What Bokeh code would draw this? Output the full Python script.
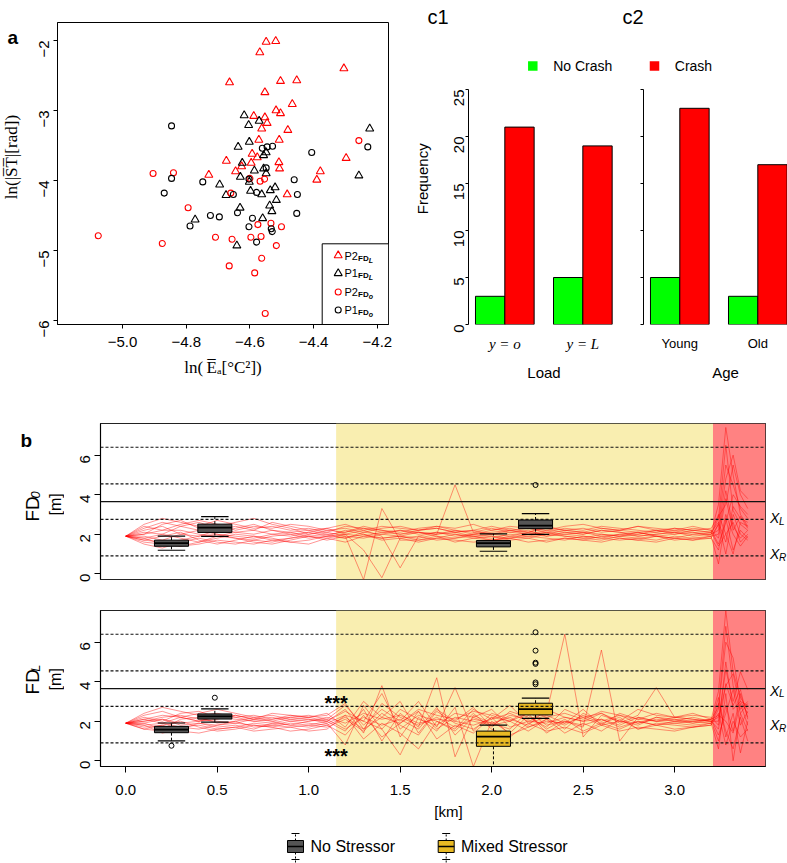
import math
from bokeh.plotting import figure
from bokeh.layouts import column, row
from bokeh.models import Span, BoxAnnotation, FixedTicker, NumeralTickFormatter
from bokeh.core.properties import value
from bokeh.embed import file_html
from bokeh.resources import INLINE

SANS = "Liberation Sans"
SERIF = "Liberation Serif"
RED = "#FF0000"
GREEN = "#00FF00"
GRAY_BOX = "#555555"
GOLD_BOX = "#E8B923"
YELLOW_BG = "#F9EEB0"
RED_BG = "#FF8282"

# ---------------- panel a : scatter ----------------
P2L_X = [-4.549, -4.519, -4.569, -4.305, -4.664, -4.504, -4.453, -4.553, -4.467, -4.518, -4.504,
         -4.588, -4.553, -4.546, -4.563, -4.481, -4.572, -4.508, -4.593, -4.577, -4.674, -4.596,
         -4.509, -4.626, -4.645, -4.507, -4.298, -4.379, -4.390, -4.729, -4.483]
P2L_Y = [-2.02, -2.01, -2.17, -2.40, -2.60, -2.58, -2.57, -2.74, -2.91, -3.00, -3.04,
         -3.08, -3.10, -3.18, -3.26, -3.28, -3.42, -3.42, -3.62, -3.67, -3.72, -3.75,
         -3.74, -3.80, -3.87, -3.83, -3.68, -3.87, -3.99, -3.92, -4.20]
P1L_X = [-4.618, -4.571, -4.604, -4.224, -4.602, -4.637, -4.549, -4.557, -4.624, -4.586, -4.557,
         -4.549, -4.630, -4.602, -4.258, -4.695, -4.675, -4.598, -4.563, -4.536, -4.521, -4.517,
         -4.631, -4.538, -4.531, -4.560, -4.772, -4.641]
P1L_Y = [-3.07, -3.15, -3.21, -3.26, -3.45, -3.52, -3.60, -3.64, -3.75, -3.86, -3.83,
         -3.90, -3.95, -4.02, -3.93, -4.06, -4.21, -4.15, -4.20, -4.14, -4.10, -4.28,
         -4.39, -4.36, -4.44, -4.54, -4.56, -4.93]
P2O_X = [-4.258, -4.904, -4.840, -4.600, -4.554, -4.568, -4.660, -4.794, -5.076, -4.875, -4.708,
         -4.656, -4.597, -4.565, -4.575, -4.534, -4.501, -4.517, -4.665, -4.563, -4.585, -4.552]
P2O_Y = [-3.43, -3.90, -3.89, -3.97, -3.98, -4.01, -4.18, -4.39, -4.79, -4.90, -4.81,
         -4.84, -4.81, -4.80, -4.63, -4.61, -4.66, -4.93, -5.22, -5.11, -5.32, -5.90]
P1O_X = [-4.846, -4.230, -4.406, -4.561, -4.546, -4.529, -4.846, -4.748, -4.869, -4.652, -4.603,
         -4.579, -4.549, -4.461, -4.451, -4.453, -4.639, -4.724, -4.696, -4.788, -4.592, -4.603,
         -4.533, -4.530, -4.579]
P1O_Y = [-3.22, -3.52, -3.60, -3.54, -3.52, -3.51, -3.97, -4.02, -4.18, -4.20, -3.98,
         -4.17, -3.82, -3.99, -4.20, -4.47, -4.46, -4.50, -4.52, -4.65, -4.54, -4.66,
         -4.69, -4.73, -4.88]
A_XTICKS = [-5.0, -4.8, -4.6, -4.4, -4.2]
A_YTICKS = [-6, -5, -4, -3, -2]

# ---------------- panel c : bar counts ----------------
LOAD_GROUPS = ["y = o", "y = L"]
LOAD_NO_CRASH = [3, 5]
LOAD_CRASH = [21, 19]
AGE_GROUPS = ["Young", "Old"]
AGE_NO_CRASH = [5, 3]
AGE_CRASH = [23, 17]
C_YTICKS = [0, 5, 10, 15, 20, 25]

# ---------------- panel b : lane traces ----------------
KM = [0.0, 0.1, 0.2, 0.3, 0.4, 0.5, 0.6, 0.7, 0.8, 0.9,
      1.0, 1.1, 1.2, 1.3, 1.4, 1.5, 1.6, 1.7, 1.8, 1.9,
      2.0, 2.1, 2.2, 2.3, 2.4, 2.5, 2.6, 2.7, 2.8, 2.9,
      3.0, 3.1, 3.2, 3.24, 3.28, 3.32, 3.36, 3.40]
FD0_TRACES = [
    [1.9, 2.3, 2.6, 2.4, 2.2, 2.1, 2.3, 2.5, 2.2, 2.0, 2.1, 2.3, 2.0, 1.9, 2.1, 2.2, 2.0, 2.1, 1.9, 2.0,
     2.1, 2.2, 2.0, 1.9, 2.1, 2.0, 2.2, 2.1, 1.9, 2.0, 2.1, 2.0, 2.0, 2.8, 6.5, 3.2, 2.5, 2.2],
    [1.9, 1.6, 1.5, 1.7, 1.9, 2.0, 1.8, 1.7, 1.9, 2.0, 1.8, 1.9, 2.2, 2.0, 1.8, 1.9, 2.1, 1.9, 1.8, 2.0,
     1.9, 1.8, 2.0, 2.1, 1.9, 1.8, 2.0, 1.9, 2.1, 1.9, 1.8, 2.0, 2.1, 3.5, 7.4, 5.0, 3.0, 2.4],
    [1.9, 2.5, 2.8, 2.6, 2.4, 2.7, 2.5, 2.3, 2.4, 2.2, 2.3, 2.1, 2.4, 2.3, 2.2, 2.1, 2.3, 2.4, 2.2, 2.0,
     2.2, 2.3, 2.1, 2.4, 2.2, 2.3, 2.1, 2.2, 2.4, 2.2, 2.1, 2.3, 2.2, 1.5, 2.6, 4.0, 3.4, 3.0],
    [1.9, 1.5, 1.3, 1.6, 1.8, 1.6, 1.5, 1.7, 1.6, 1.8, 1.9, 1.7, 1.9, -0.3, 3.3, 1.7, 1.7, 1.9, 1.6, 1.8,
     1.7, 1.9, 1.8, 1.6, 1.8, 1.7, 1.9, 1.8, 1.7, 1.9, 1.8, 1.7, 1.9, 0.5, 2.8, 1.2, 2.2, 1.8],
    [1.9, 2.1, 2.0, 2.4, 2.6, 2.3, 2.1, 2.0, 2.2, 2.1, 1.9, 2.0, 1.8, 2.1, 2.0, 2.2, 2.1, 2.0, 4.5, 2.1,
     2.0, 1.9, 2.1, 2.0, 2.2, 2.1, 2.0, 1.9, 2.0, 2.1, 2.2, 2.1, 1.9, 2.5, 5.5, 4.5, 3.3, 2.8],
    [1.9, 1.8, 2.0, 1.8, 1.6, 1.8, 2.0, 1.9, 1.7, 1.8, 2.0, 2.1, 1.9, 1.8, 2.0, 1.9, 1.8, 2.0, 2.1, 1.9,
     1.8, 2.0, 1.9, 2.1, 2.0, 1.9, 1.8, 2.0, 1.9, 2.0, 2.1, 1.9, 2.0, 3.0, 2.0, 2.6, 1.6, 2.0],
    [1.9, 2.2, 2.4, 2.0, 1.9, 2.2, 2.4, 2.2, 2.6, 2.4, 2.2, 2.3, 2.5, 2.2, 2.4, 2.3, 2.2, 2.4, 2.3, 2.5,
     2.2, 2.4, 2.3, 2.2, 2.4, 2.5, 2.3, 2.2, 2.4, 2.3, 2.2, 2.4, 2.2, 1.8, 3.8, 2.2, 2.9, 2.3],
    [1.9, 1.7, 1.6, 1.4, 1.5, 1.7, 1.6, 1.5, 1.7, 1.6, 1.5, 1.8, 2.0, 1.2, -0.2, 1.8, 1.6, 1.8, 1.7, 1.6,
     1.7, 1.8, 1.6, 1.7, 1.8, 1.7, 1.6, 1.8, 1.7, 1.6, 1.8, 1.7, 1.8, 2.5, 1.0, 3.0, 2.0, 1.7],
    [1.9, 2.0, 2.2, 2.2, 2.0, 1.9, 2.1, 2.2, 2.0, 2.1, 2.2, 2.0, 2.1, 2.3, 2.1, 2.0, 2.1, 2.0, 2.2, 2.1,
     2.3, 2.1, 2.0, 2.2, 2.1, 2.0, 2.2, 2.1, 2.0, 2.2, 2.0, 2.1, 2.0, 2.2, 4.8, 6.0, 4.2, 3.8],
    [1.9, 1.9, 1.7, 2.0, 2.2, 2.0, 1.9, 1.8, 2.0, 1.9, 2.1, 1.9, 2.0, 2.2, 1.9, 0.3, 1.9, 2.1, 2.0, 1.9,
     2.0, 2.1, 2.2, 1.9, 2.0, 2.1, 1.9, 2.0, 2.1, 1.9, 2.0, 2.2, 2.1, 1.4, 2.0, 1.0, 2.6, 2.4],
    [1.9, 2.4, 2.2, 2.5, 2.7, 2.5, 2.2, 2.4, 2.3, 2.5, 2.4, 2.2, 2.3, 2.1, 2.3, 2.4, 2.2, 2.3, 2.1, 2.2,
     2.4, 2.2, 2.3, 2.1, 2.3, 2.2, 2.4, 2.3, 2.2, 2.1, 2.3, 2.2, 2.3, 2.9, 3.5, 5.5, 4.0, 3.3],
    [1.9, 1.7, 1.9, 2.1, 1.7, 1.5, 1.7, 1.9, 1.8, 1.6, 1.7, 1.9, 1.8, 2.0, 1.7, 1.8, 1.9, 1.7, 1.8, 1.9,
     1.7, 1.8, 1.9, 1.8, 1.7, 1.9, 1.8, 1.7, 1.8, 1.9, 1.7, 1.8, 1.8, 1.2, 3.0, 2.0, 1.4, 1.9],
    [1.9, 2.0, 2.5, 2.7, 2.3, 2.4, 2.6, 2.8, 2.5, 2.3, 2.0, 2.2, 2.1, 2.4, 2.2, 2.0, 2.2, 2.3, 2.1, 2.2,
     2.0, 2.2, 2.1, 2.3, 2.2, 2.1, 2.3, 2.2, 2.1, 2.2, 2.3, 2.2, 2.1, 2.6, 1.6, 3.4, 2.8, 2.6],
    [1.9, 1.8, 1.5, 1.4, 1.6, 1.9, 1.8, 1.6, 1.5, 1.7, 1.9, 1.8, 1.6, 1.9, 1.8, 1.9, 1.7, 1.8, 2.0, 1.8,
     1.9, 1.7, 1.8, 2.0, 1.9, 1.8, 1.7, 1.9, 1.8, 1.7, 1.9, 1.8, 1.9, 2.0, 4.2, 2.4, 1.8, 2.2],
]
FDL_TRACES = [
    [1.9, 2.1, 2.3, 2.2, 2.0, 2.1, 2.3, 2.1, 2.0, 2.2, 2.1, 2.0, 2.6, 1.4, 3.8, 1.2, 2.5, 1.6, 2.2, 2.0,
     1.8, 2.3, 2.1, 2.4, 6.4, 1.2, 2.3, 2.0, 1.8, 2.2, 2.1, 2.0, 2.1, 3.5, 7.6, 4.5, 3.2, 2.6],
    [1.9, 1.6, 1.5, 1.7, 1.8, 1.6, 1.7, 1.9, 1.8, 1.7, 1.8, 2.0, 1.5, 2.6, 1.0, 2.4, 1.7, 4.2, 0.2, 2.3,
     1.9, 1.6, 2.5, 1.8, 2.0, 1.7, 5.6, 1.0, 2.2, 2.0, 1.9, 2.0, 1.9, 2.6, 6.0, 5.2, 3.0, 2.4],
    [1.9, 2.4, 2.7, 2.5, 2.3, 2.4, 2.2, 2.3, 2.1, 2.2, 2.3, 2.1, 2.8, 1.8, 2.6, 2.0, 3.0, 1.7, 3.7, 1.5,
     2.4, 2.1, 1.8, 2.6, 2.2, 2.0, 2.4, 1.9, 2.3, 3.7, 2.2, 2.1, 2.0, 1.0, 2.8, 1.5, 3.4, 2.2],
    [1.9, 1.8, 1.4, 1.6, 1.9, 1.7, 1.8, 1.6, 1.9, 1.8, 1.7, 1.9, 0.8, 2.8, 1.6, 0.3, 2.2, 1.5, 2.7, -0.3,
     2.0, 1.4, 2.3, 1.6, 2.1, 1.5, 1.9, 2.2, 1.6, 1.9, 1.8, 1.7, 1.9, 0.6, 3.4, 0.0, 2.4, 1.5],
    [1.9, 2.0, 2.2, 2.3, 2.1, 2.0, 1.9, 2.1, 2.2, 2.0, 2.1, 1.9, 2.3, 2.0, 1.6, 2.6, 2.1, 1.8, 2.4, 2.2,
     2.6, 1.7, 2.0, 2.3, 1.9, 2.6, 1.8, 2.4, 2.1, 2.0, 2.2, 2.1, 2.0, 2.0, 4.6, 3.0, 4.5, 3.6],
    [1.9, 1.8, 1.9, 1.7, 1.6, 1.8, 1.9, 1.8, 1.7, 1.9, 1.8, 1.7, 2.1, 1.5, 2.4, 1.8, 1.3, 2.5, 1.9, 1.6,
     2.2, 2.0, 1.5, 2.1, 1.8, 2.3, 1.9, 1.6, 2.0, 1.8, 1.9, 1.8, 1.9, 3.2, 1.2, 2.4, 0.4, 2.0],
    [1.9, 2.2, 2.0, 2.4, 2.5, 2.2, 2.3, 2.1, 2.4, 2.3, 2.2, 2.4, 1.7, 3.0, 2.2, 1.9, 2.6, 2.3, 2.1, 2.5,
     2.3, 2.0, 2.6, 2.2, 2.4, 2.1, 2.5, 2.3, 2.1, 2.4, 2.2, 2.3, 2.2, 1.8, 5.0, 2.6, 3.0, 2.8],
    [1.9, 1.7, 1.8, 1.5, 1.4, 1.6, 1.7, 1.5, 1.6, 1.7, 1.5, 1.6, 2.3, 1.1, 1.9, 1.4, 0.6, 2.0, 1.5, 2.4,
     1.6, 1.2, 1.9, 1.5, 1.7, 1.4, 1.8, 1.5, 1.7, 1.6, 1.5, 1.7, 1.8, 2.4, 0.8, 2.0, 1.2, 1.6],
    [1.9, 2.0, 2.1, 1.9, 2.0, 2.2, 2.1, 2.0, 1.9, 2.1, 2.0, 2.2, 1.9, 2.4, 2.1, 2.3, 1.9, 2.1, 2.0, 1.8,
     2.1, 2.4, 2.0, 1.9, 2.2, 2.0, 2.1, 1.8, 2.2, 2.0, 2.1, 1.9, 2.0, 2.2, 3.8, 4.4, 2.6, 3.0],
    [1.9, 1.9, 1.6, 2.1, 2.2, 1.9, 2.0, 1.7, 1.8, 2.0, 1.9, 1.8, 2.2, 1.6, 2.9, 2.2, 1.8, 2.2, 1.7, 2.1,
     1.9, 2.2, 1.7, 2.0, 1.9, 2.2, 1.8, 2.0, 1.9, 2.1, 2.0, 1.9, 2.1, 1.3, 2.4, 3.6, 1.8, 2.5],
    [1.9, 2.3, 2.5, 2.2, 2.4, 2.6, 2.4, 2.2, 2.3, 2.1, 2.2, 2.3, 2.9, 1.6, 2.2, 3.0, 1.4, 2.6, 2.0, 2.7,
     1.7, 2.5, 2.2, 1.7, 2.6, 2.2, 2.4, 2.0, 2.6, 2.3, 2.2, 2.4, 2.1, 2.7, 6.8, 3.8, 2.4, 2.9],
    [1.9, 1.6, 1.8, 2.0, 1.7, 1.5, 1.6, 1.8, 1.7, 1.5, 1.6, 1.8, 1.3, 2.3, 1.2, 1.9, 2.5, 1.1, 1.8, 1.4,
     2.2, 1.3, 1.7, 2.1, 1.4, 1.9, 1.5, 2.1, 1.6, 1.8, 1.6, 1.7, 1.8, 2.9, 1.5, 0.6, 2.2, 1.0],
    [1.9, 2.1, 1.9, 2.2, 2.0, 2.3, 2.2, 2.0, 2.1, 2.3, 2.2, 2.0, 2.5, 2.0, 3.4, 1.6, 2.3, 2.0, 1.6, 2.6,
     2.1, 2.8, 1.9, 2.2, 1.6, 2.4, 2.0, 2.3, 1.9, 2.2, 2.0, 2.2, 2.0, 1.6, 3.9, 2.8, 3.6, 2.1],
    [1.9, 1.9, 2.1, 1.8, 1.9, 1.8, 2.0, 2.2, 2.0, 1.8, 2.0, 2.1, 1.6, 2.2, 1.8, 2.1, 1.6, 2.7, 1.3, 2.2,
     1.8, 2.0, 2.4, 1.4, 2.0, 1.8, 2.1, 1.7, 2.0, 1.8, 2.0, 2.0, 2.1, 2.3, 2.0, 1.4, 2.9, 1.8],
]
LANE_DASHED = [6.4, 4.55, 2.75, 0.9]
LANE_EDGE = 3.65
STRESSOR_START = 1.15
CRASH_START = 3.21
B_XTICKS = [0.0, 0.5, 1.0, 1.5, 2.0, 2.5, 3.0]
B_YTICKS = [0, 2, 4, 6]

BOX_POS = [0.25, 0.487, 2.01, 2.24]
FD0_LO = [1.19, 1.89, 1.14, 1.99]
FD0_Q1 = [1.39, 2.09, 1.36, 2.28]
FD0_MED = [1.55, 2.33, 1.55, 2.43]
FD0_Q3 = [1.70, 2.51, 1.68, 2.72]
FD0_HI = [1.90, 2.89, 2.02, 3.04]
FD0_OUT_X = [2.24]
FD0_OUT_Y = [4.49]
FDL_LO = [1.01, 1.95, -0.45, 2.14]
FDL_Q1 = [1.42, 2.11, 0.73, 2.32]
FDL_MED = [1.58, 2.25, 1.22, 2.61]
FDL_Q3 = [1.74, 2.37, 1.50, 2.91]
FDL_HI = [1.91, 2.62, 1.80, 3.17]
FDL_OUT_X = [0.25, 0.487, 2.24, 2.24, 2.24, 2.24, 2.24, 2.24]
FDL_OUT_Y = [0.76, 3.19, 6.50, 5.57, 4.96, 4.90, 3.96, 3.87]


# ---------------- helpers ----------------
def frame_map(xr, yr, left, top, w, h):
    """picture pixel -> data coordinates of a frame whose top-left corner is at (left, top)"""
    def f(ix, iy):
        return (xr[0] + (ix - left) / w * (xr[1] - xr[0]),
                yr[1] - (iy - top) / h * (yr[1] - yr[0]))
    return f


def base_fig(**kw):
    p = figure(output_backend="svg", toolbar_location=None, **kw)
    p.grid.visible = False
    p.background_fill_color = "white"
    p.border_fill_color = "white"
    return p


def text_fig(ix0, iy0, w, h):
    p = base_fig(width=w, height=h, x_range=(0, w), y_range=(0, h), min_border=0,
                 x_axis_location=None, y_axis_location=None)
    p.outline_line_color = None
    return p, frame_map((0, w), (0, h), ix0, iy0, w, h)


def txt(p, m, ix, iy, text, size, font=SANS, style="normal", align="left",
        baseline="middle", angle=0.0):
    x, y = m(ix, iy)
    p.text([x], [y], text=[text], text_font=value(font), text_font_size=f"{size}px",
           text_font_style=style, text_align=align, text_baseline=baseline,
           angle=angle, text_color="black")


def style_axis(ax, size, tick_out, standoff, font=SANS):
    ax.axis_line_color = "black"
    ax.axis_line_width = 1
    ax.major_tick_line_color = "black"
    ax.major_tick_line_width = 1
    ax.minor_tick_line_color = None
    ax.major_tick_out = tick_out
    ax.major_tick_in = 0
    ax.major_label_text_font = font
    ax.major_label_text_font_size = f"{size}px"
    ax.major_label_text_color = "black"
    ax.major_label_standoff = standoff


def minus(v, fmt):
    return fmt.format(v).replace("-", "\u2212")


# ---------------- panel a ----------------
A_XR = (-5.204, -4.165)
A_YR = (-6.057, -1.743)
a_lab, a_lab_map = text_fig(0, 0, 25, 395)
txt(a_lab, a_lab_map, 7, 20, "a", 19, style="bold", baseline="alphabetic")
txt(a_lab, a_lab_map, 11, 176, "ln(|S\u0305T\u0305|[rad])", 17, font=SERIF, align="center",
    angle=math.pi / 2)

pa = base_fig(width=373, height=395, x_range=A_XR, y_range=A_YR,
              min_border_left=32, min_border_right=10, min_border_top=22, min_border_bottom=71)
pa.outline_line_color = "black"
pa.outline_line_width = 1
amap = frame_map(A_XR, A_YR, 57, 22, 331, 302)
style_axis(pa.xaxis[0], 15, 4, 8)
style_axis(pa.yaxis[0], 15, 4, 9)
pa.xaxis.ticker = FixedTicker(ticks=A_XTICKS)
pa.yaxis.ticker = FixedTicker(ticks=A_YTICKS)
pa.xaxis.major_label_overrides = {t: minus(t, "{:.1f}") for t in A_XTICKS}
pa.yaxis.major_label_overrides = {t: minus(t, "{:d}") for t in A_YTICKS}
pa.yaxis.major_label_orientation = math.pi / 2
pa.xaxis.axis_label = "ln(\u2009E\u0305\u2090[\u00b0C\u00b2])"
pa.xaxis.axis_label_text_font = SERIF
pa.xaxis.axis_label_text_font_size = "17px"
pa.xaxis.axis_label_text_font_style = "normal"
pa.xaxis.axis_label_text_color = "black"
pa.xaxis.axis_label_standoff = 8

pa.scatter(P2L_X, P2L_Y, marker="triangle", size=8, fill_color=None, line_color=RED, line_width=1.1)
pa.scatter(P1L_X, P1L_Y, marker="triangle", size=8, fill_color=None, line_color="black", line_width=1.1)
pa.scatter(P2O_X, P2O_Y, marker="circle", size=6, fill_color=None, line_color=RED, line_width=1.1)
pa.scatter(P1O_X, P1O_Y, marker="circle", size=6, fill_color=None, line_color="black", line_width=1.1)

# legend of panel a (inside the frame)
lx0, ly0 = amap(321.7, 243.3)
pa.quad(left=[lx0], right=[A_XR[1]], bottom=[A_YR[0]], top=[ly0],
        fill_color="white", line_color="black", line_width=1)
leg_rows = [("P2", "L", RED, "triangle"), ("P1", "L", "black", "triangle"),
            ("P2", "o", RED, "circle"), ("P1", "o", "black", "circle")]
for (main, sub, col, mk), iy in zip(leg_rows, [255.0, 272.8, 291.5, 309.5]):
    mx, my = amap(337.7, iy)
    pa.scatter([mx], [my], marker=mk, size=8 if mk == "triangle" else 6,
               fill_color=None, line_color=col, line_width=1.1)
    txt(pa, amap, 344, iy, main, 11)
    txt(pa, amap, 357.5, iy + 2.5, "FD", 8, style="bold")
    txt(pa, amap, 368.3, iy + 4.5, sub, 7, style="bold italic")

# ---------------- panel c ----------------
GROUP_STEP = 2.66
C_YR = (0, 25)


def bar_fig(width, left_b, right_b, xr, groups, no_crash, crash, label_font, label_style, label_size,
            show_tick_labels):
    p = base_fig(width=width, height=285, x_range=xr, y_range=C_YR,
                 min_border_left=left_b, min_border_right=right_b, min_border_top=14, min_border_bottom=36)
    p.outline_line_color = None
    centers = [i * GROUP_STEP for i in range(len(groups))]
    p.quad(left=[c - 1 for c in centers], right=centers, bottom=0, top=no_crash,
           fill_color=GREEN, line_color="black", line_width=1)
    p.quad(left=centers, right=[c + 1 for c in centers], bottom=0, top=crash,
           fill_color=RED, line_color="black", line_width=1)
    style_axis(p.yaxis[0], 15, 3, 7)
    p.yaxis.ticker = FixedTicker(ticks=C_YTICKS)
    p.yaxis.major_label_orientation = math.pi / 2
    if not show_tick_labels:
        p.yaxis.major_label_overrides = {t: "" for t in C_YTICKS}
    xa = p.xaxis[0]
    style_axis(xa, label_size, 0, 11, font=label_font)
    xa.axis_line_color = None
    xa.major_tick_line_color = None
    xa.major_label_text_font_style = label_style
    xa.ticker = FixedTicker(ticks=centers)
    xa.major_label_overrides = {c: g for c, g in zip(centers, groups)}
    return p


C_XR1 = (-1.238, 3.91)
C_XR2 = (-1.238, 3.672)
freq_fig, freq_map = text_fig(398, 75, 34, 285)
txt(freq_fig, freq_map, 422, 183.3, "Frequency", 15, align="center", angle=math.pi / 2)
pc1 = bar_fig(188, 36, 1, C_XR1, LOAD_GROUPS, LOAD_NO_CRASH, LOAD_CRASH, SERIF, "italic", 15, True)
pc2 = bar_fig(167, 23, 0, C_XR2, AGE_GROUPS, AGE_NO_CRASH, AGE_CRASH, SANS, "normal", 13, False)

c_foot, c_foot_map = text_fig(398, 360, 389, 35)
txt(c_foot, c_foot_map, 543.5, 372, "Load", 15, align="center")
txt(c_foot, c_foot_map, 725, 372, "Age", 15, align="center")

c_head, hmap = text_fig(398, 0, 389, 75)
for label, ix in [("c1", 427), ("c2", 622)]:
    txt(c_head, hmap, ix, 16.7, label, 20, baseline="alphabetic")
for label, col, sq_x, tx_x in [("No Crash", GREEN, 532.3, 552.7), ("Crash", RED, 654.0, 674.3)]:
    sx, sy = hmap(sq_x, 65.5)
    c_head.scatter([sx], [sy], marker="square", size=9.5, fill_color=col, line_color=None)
    txt(c_head, hmap, tx_x, 65.5, label, 14)

# ---------------- panel b ----------------
B_XR = (-0.138, 3.497)
B_YR = (-0.29, 7.6)


def lane_fig(height, top_b, bottom_b, show_x, traces, lo, q1, med, q3, hi, out_x, out_y, colors):
    p = base_fig(width=702, height=height, x_range=B_XR, y_range=B_YR,
                 min_border_left=36, min_border_right=1, min_border_top=top_b, min_border_bottom=bottom_b,
                 x_axis_location="below" if show_x else None)
    p.outline_line_color = "#222222"
    p.outline_line_width = 1.2
    p.add_layout(BoxAnnotation(left=STRESSOR_START, right=CRASH_START, fill_color=YELLOW_BG,
                               fill_alpha=1, line_alpha=0, level="underlay"))
    p.add_layout(BoxAnnotation(left=CRASH_START, fill_color=RED_BG, fill_alpha=1,
                               line_alpha=0, level="underlay"))
    p.multi_line(xs=[KM] * len(traces), ys=traces, line_color=RED, line_alpha=0.42, line_width=1)
    for v in LANE_DASHED:
        p.add_layout(Span(location=v, dimension="width", line_color="#111111",
                          line_dash="3 2", line_width=1.2))
    p.add_layout(Span(location=LANE_EDGE, dimension="width", line_color="#111111", line_width=1.2))
    bw = 0.186
    cw = 0.075
    p.segment(x0=BOX_POS, y0=q3, x1=BOX_POS, y1=hi, line_color="black", line_width=1, line_dash="3 2")
    p.segment(x0=BOX_POS, y0=q1, x1=BOX_POS, y1=lo, line_color="black", line_width=1, line_dash="3 2")
    p.segment(x0=[x - cw for x in BOX_POS], y0=hi, x1=[x + cw for x in BOX_POS], y1=hi,
              line_color="black", line_width=1.2)
    p.segment(x0=[x - cw for x in BOX_POS], y0=lo, x1=[x + cw for x in BOX_POS], y1=lo,
              line_color="black", line_width=1.2)
    p.quad(left=[x - bw / 2 for x in BOX_POS], right=[x + bw / 2 for x in BOX_POS], bottom=q1, top=q3,
           fill_color=colors, line_color="black", line_width=1)
    p.segment(x0=[x - bw / 2 for x in BOX_POS], y0=med, x1=[x + bw / 2 for x in BOX_POS], y1=med,
              line_color="black", line_width=1.8)
    p.scatter(out_x, out_y, marker="circle", size=5, fill_color=None, line_color="black", line_width=1)
    style_axis(p.yaxis[0], 15, 6, 9)
    p.yaxis.ticker = FixedTicker(ticks=B_YTICKS)
    p.yaxis.major_label_orientation = math.pi / 2
    if show_x:
        style_axis(p.xaxis[0], 15, 6, 12)
        p.xaxis.ticker = FixedTicker(ticks=B_XTICKS)
        p.xaxis.formatter = NumeralTickFormatter(format="0.0")
    return p


pb1 = lane_fig(200, 28, 16, False, FD0_TRACES, FD0_LO, FD0_Q1, FD0_MED, FD0_Q3, FD0_HI,
               FD0_OUT_X, FD0_OUT_Y, [GRAY_BOX] * 4)
pb2 = lane_fig(208, 15, 37, True, FDL_TRACES, FDL_LO, FDL_Q1, FDL_MED, FDL_Q3, FDL_HI,
               FDL_OUT_X, FDL_OUT_Y, [GRAY_BOX, GRAY_BOX, GOLD_BOX, GOLD_BOX])
bmap2 = frame_map(B_XR, B_YR, 100, 610, 665, 156)

# significance stars at the start of the stressor zone
_, star_hi = bmap2(0, 702)
_, star_lo = bmap2(0, 755.7)
pb2.text([STRESSOR_START, STRESSOR_START], [star_hi, star_lo], text=["***", "***"],
         text_font=value(SANS), text_font_size="20px", text_font_style="bold",
         text_align="center", text_baseline="middle", text_color="black")

# side label strips of panel b
bl1, bl1_map = text_fig(0, 395, 64, 200)
br1, br1_map = text_fig(766, 395, 21, 200)
bl2, bl2_map = text_fig(0, 595, 64, 208)
br2, br2_map = text_fig(766, 595, 21, 208)
txt(bl1, bl1_map, 20, 417, "b", 19, style="bold", baseline="alphabetic")
for lp, lm, rp, rm, sub, fd_c, sub_start, m_c, xl_c, xr_c in [
        (bl1, bl1_map, br1, br1_map, "0", 504.5, 491.0, 498.7, 516.0, 561.7),
        (bl2, bl2_map, br2, br2_map, "L", 690.0, 676.5, 686.7, 701.7, 748.3)]:
    txt(lp, lm, 31.7, fd_c, "FD", 19, align="center", baseline="alphabetic", angle=math.pi / 2)
    txt(lp, lm, 34.5, sub_start, sub, 13, style="italic", align="left", baseline="alphabetic",
        angle=math.pi / 2)
    txt(lp, lm, 54.5, m_c, "[m]", 16, align="center", baseline="alphabetic", angle=math.pi / 2)
    txt(rp, rm, 769.5, xl_c, "X", 14, style="italic")
    txt(rp, rm, 778.5, xl_c + 4.5, "L", 10, style="italic")
    txt(rp, rm, 769.5, xr_c, "X", 14, style="italic")
    txt(rp, rm, 778.5, xr_c + 4.5, "R", 10, style="italic")

# ---------------- bottom strip: x label and legend ----------------
pl, lmap = text_fig(0, 803, 787, 60)
txt(pl, lmap, 448, 811, "[km]", 15, align="center")
for label, col, ix0, tx in [("No Stressor", GRAY_BOX, 287.0, 310.0),
                            ("Mixed Stressor", GOLD_BOX, 437.7, 460.5)]:
    x0, yb = lmap(ix0, 852)
    x1, yt = lmap(ix0 + 16, 840)
    xc = (x0 + x1) / 2
    _, ycap = lmap(0, 833)
    _, ymid = lmap(0, 846)
    _, ylow = lmap(0, 862)
    _, ylowcap = lmap(0, 859)
    pl.segment([xc, xc], [yt, yb], [xc, xc], [ycap, ylow], line_color="black", line_width=1,
               line_dash="2 2")
    pl.segment([xc - 4, xc - 4], [ycap, ylowcap], [xc + 4, xc + 4], [ycap, ylowcap],
               line_color="black", line_width=1)
    pl.quad(left=[x0], right=[x1], bottom=[yb], top=[yt], fill_color=col, line_color="black", line_width=1)
    pl.segment([x0], [ymid], [x1], [ymid], line_color="black", line_width=1.5)
    txt(pl, lmap, tx, 846, label, 16)

top_row = row(a_lab, pa, column(c_head, row(freq_fig, pc1, pc2), c_foot))
layout = column(top_row, row(bl1, pb1, br1), row(bl2, pb2, br2), pl)
open("out.html", "w").write(file_html(layout, INLINE))
